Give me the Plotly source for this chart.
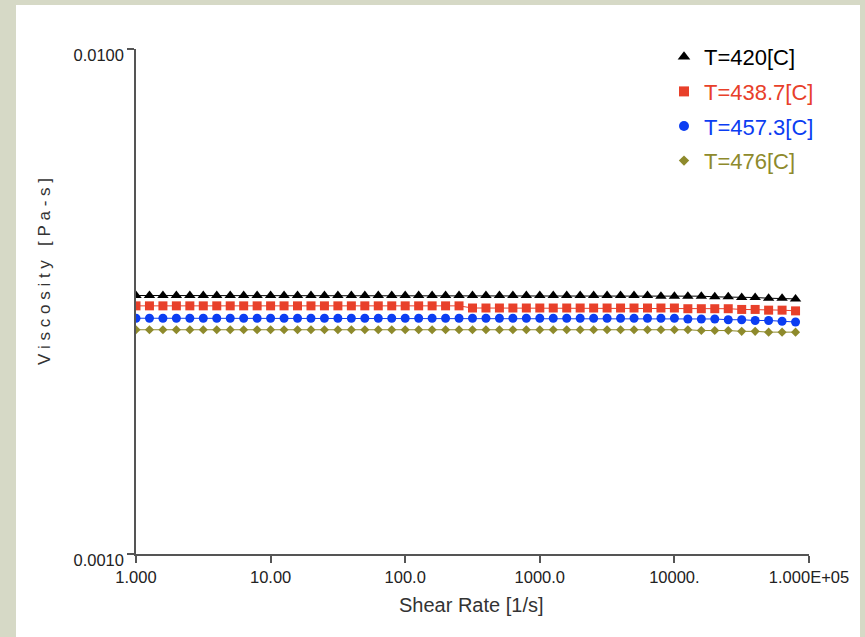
import plotly.graph_objects as go

# Shear rate sweep [1/s] (10 points per decade)
shear_rate = [1.0, 1.259, 1.585, 1.995, 2.512, 3.162, 3.981, 5.012, 6.31, 7.943,
              10.0, 12.59, 15.85, 19.95, 25.12, 31.62, 39.81, 50.12, 63.1, 79.43,
              100.0, 125.9, 158.5, 199.5, 251.2, 316.2, 398.1, 501.2, 631.0, 794.3,
              1000.0, 1259.0, 1585.0, 1995.0, 2512.0, 3162.0, 3981.0, 5012.0, 6310.0, 7943.0,
              10000.0, 12590.0, 15850.0, 19950.0, 25120.0, 31620.0, 39810.0, 50120.0, 63100.0, 79430.0]

visc_420 = [0.00325, 0.00325, 0.00325, 0.00325, 0.00325, 0.00325, 0.00325, 0.00325, 0.00325, 0.00325,
            0.00325, 0.00325, 0.00325, 0.00325, 0.00325, 0.00325, 0.00325, 0.00325, 0.00325, 0.00325,
            0.00325, 0.00325, 0.00325, 0.00325, 0.00325, 0.00325, 0.00325, 0.00325, 0.00325, 0.00325,
            0.00325, 0.00325, 0.00325, 0.00325, 0.00325, 0.00325, 0.00325, 0.00325, 0.00325, 0.00324,
            0.00324, 0.00324, 0.00324, 0.00323, 0.00323, 0.00322, 0.00322, 0.00321, 0.00321, 0.00320]

visc_438_7 = [0.00310, 0.00310, 0.00310, 0.00310, 0.00310, 0.00310, 0.00310, 0.00310, 0.00310, 0.00310,
              0.00310, 0.00310, 0.00310, 0.00310, 0.00310, 0.00310, 0.00310, 0.00310, 0.00310, 0.00310,
              0.00310, 0.00310, 0.00310, 0.00310, 0.00310, 0.00307, 0.00307, 0.00307, 0.00307, 0.00307,
              0.00307, 0.00307, 0.00307, 0.00307, 0.00307, 0.00307, 0.00307, 0.00307, 0.00307, 0.00307,
              0.00307, 0.00306, 0.00306, 0.00306, 0.00306, 0.00305, 0.00305, 0.00304, 0.00304, 0.00303]

visc_457_3 = [0.00293, 0.00293, 0.00293, 0.00293, 0.00293, 0.00293, 0.00293, 0.00293, 0.00293, 0.00293,
              0.00293, 0.00293, 0.00293, 0.00293, 0.00293, 0.00293, 0.00293, 0.00293, 0.00293, 0.00293,
              0.00293, 0.00293, 0.00293, 0.00293, 0.00293, 0.00293, 0.00293, 0.00293, 0.00293, 0.00293,
              0.00293, 0.00293, 0.00293, 0.00293, 0.00293, 0.00293, 0.00293, 0.00293, 0.00293, 0.00293,
              0.00293, 0.00292, 0.00292, 0.00292, 0.00291, 0.00291, 0.00290, 0.00290, 0.00289, 0.00288]

visc_476 = [0.00278, 0.00278, 0.00278, 0.00278, 0.00278, 0.00278, 0.00278, 0.00278, 0.00278, 0.00278,
            0.00278, 0.00278, 0.00278, 0.00278, 0.00278, 0.00278, 0.00278, 0.00278, 0.00278, 0.00278,
            0.00278, 0.00278, 0.00278, 0.00278, 0.00278, 0.00278, 0.00278, 0.00278, 0.00278, 0.00278,
            0.00278, 0.00278, 0.00278, 0.00278, 0.00278, 0.00278, 0.00278, 0.00278, 0.00278, 0.00278,
            0.00278, 0.00278, 0.00277, 0.00277, 0.00277, 0.00276, 0.00276, 0.00275, 0.00275, 0.00275]

series_names = ["T=420[C]", "T=438.7[C]", "T=457.3[C]", "T=476[C]"]
series_values = [visc_420, visc_438_7, visc_457_3, visc_476]
series_colors = ["#000000", "#e8402a", "#0b3df2", "#8e8a2c"]
series_symbols = ["triangle-up", "square", "circle", "diamond"]
series_sizes = [10, 9, 9, 7]

x_tick_vals = [1, 10, 100, 1000, 10000, 100000]
x_tick_text = ["1.000", "10.00", "100.0", "1000.0", "10000.", "1.000E+05"]
y_tick_vals = [0.001, 0.01]
y_tick_text = ["0.0010", "0.0100"]

FONT = "Liberation Sans, Arial, sans-serif"
W, H = 865, 637
L, R, T, B = 136, 56, 49, 83
pw, ph = W - L - R, H - T - B

def px_x(p):
    return (p - L) / pw

def px_y(p):
    return (H - B - p) / ph

fig = go.Figure()

for name, vals, col, sym, sz in zip(series_names, series_values, series_colors, series_symbols, series_sizes):
    fig.add_trace(go.Scatter(
        x=shear_rate, y=vals, mode="lines+markers", showlegend=False,
        line=dict(color=col, width=1),
        marker=dict(color=col, symbol=sym, size=sz, line=dict(width=0)),
        name=name, legendgroup=name,
    ))
    fig.add_trace(go.Scatter(
        x=[None], y=[None], mode="markers", showlegend=True,
        marker=dict(color=col, symbol=sym, size=sz + 1, line=dict(width=0)),
        name=f"<span style='color:{col}'>{name}</span>", legendgroup=name,
    ))

# white page panel on the grey-green frame
fig.add_shape(type="rect", xref="paper", yref="paper",
              x0=px_x(16), x1=px_x(860), y0=px_y(640), y1=px_y(5),
              fillcolor="white", line=dict(width=0), layer="below")

fig.add_annotation(text="Shear Rate [1/s]", xref="paper", yref="paper",
                   x=px_x(471), y=px_y(605), xanchor="center", yanchor="middle",
                   showarrow=False, font=dict(family=FONT, size=20, color="#333333"))
ytitle = "\u00a0".join(list("Viscosity")) + "\u00a0\u00a0\u00a0" + "\u00a0".join(list("[Pa-s]"))
fig.add_annotation(text=ytitle, xref="paper", yref="paper", textangle=-90,
                   x=px_x(44), y=px_y(272), xanchor="center", yanchor="middle",
                   showarrow=False, font=dict(family=FONT, size=17, color="#333333"))

axis_common = dict(showgrid=False, zeroline=False, showline=True, linecolor="#555555",
                   linewidth=1.5, ticks="outside", ticklen=7, tickwidth=1.5, tickcolor="#555555",
                   tickfont=dict(family=FONT, size=16.5, color="#222222"), mirror=False)

fig.update_xaxes(type="log", range=[0, 5], tickvals=x_tick_vals, ticktext=x_tick_text, **axis_common)
fig.update_yaxes(type="log", range=[-3, -2], tickvals=y_tick_vals, ticktext=y_tick_text,
                 ticklabelshift=6, **axis_common)

fig.update_layout(
    width=W, height=H,
    margin=dict(l=L, r=R, t=T, b=B, pad=0),
    paper_bgcolor="#d6d9c6", plot_bgcolor="white",
    font=dict(family=FONT, size=16, color="#222222"),
    legend=dict(x=px_x(664), y=px_y(36), xanchor="left", yanchor="top",
                bgcolor="rgba(0,0,0,0)", borderwidth=0, tracegroupgap=3,
                itemwidth=30, font=dict(family=FONT, size=22)),
)

fig.write_html("out.html", config={"displayModeBar": False},
               post_script="document.body.style.margin='0';document.body.style.overflow='hidden';")
